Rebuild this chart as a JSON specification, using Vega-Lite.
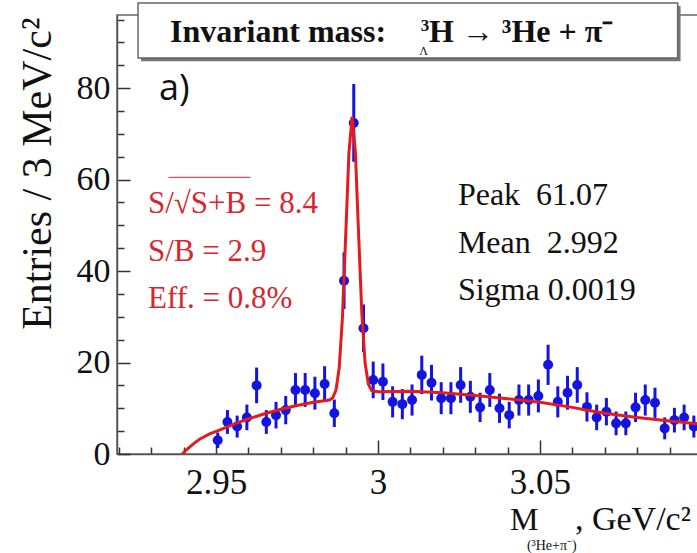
{
  "$schema": "https://vega.github.io/schema/vega-lite/v6.json",
  "autosize": {"type": "none"},
  "width": 583,
  "height": 439,
  "padding": {"left": 117, "top": 15, "right": 0, "bottom": 99},
  "background": "white",
  "view": {"stroke": "#666666", "strokeWidth": 1.5},
  "config": {"font": "Liberation Serif"},
  "resolve": {"axis": {"x": "independent", "y": "independent"}},
  "datasets": {
    "hist": [
      {"m": 2.9505, "n": 3.0, "lo": 1.3, "hi": 4.7},
      {"m": 2.9535, "n": 7.0, "lo": 4.4, "hi": 9.6},
      {"m": 2.9565, "n": 6.0, "lo": 3.6, "hi": 8.4},
      {"m": 2.9595, "n": 8.0, "lo": 5.2, "hi": 10.8},
      {"m": 2.9625, "n": 15.0, "lo": 11.1, "hi": 18.9},
      {"m": 2.9655, "n": 7.0, "lo": 4.4, "hi": 9.6},
      {"m": 2.9685, "n": 8.5, "lo": 5.6, "hi": 11.4},
      {"m": 2.9715, "n": 9.6, "lo": 6.5, "hi": 12.7},
      {"m": 2.9745, "n": 14.0, "lo": 10.3, "hi": 17.7},
      {"m": 2.9775, "n": 14.0, "lo": 10.3, "hi": 17.7},
      {"m": 2.9805, "n": 13.3, "lo": 9.7, "hi": 16.9},
      {"m": 2.9835, "n": 15.3, "lo": 11.4, "hi": 19.2},
      {"m": 2.9865, "n": 8.9, "lo": 5.9, "hi": 11.9},
      {"m": 2.9895, "n": 37.9, "lo": 31.7, "hi": 44.1},
      {"m": 2.9925, "n": 72.4, "lo": 63.9, "hi": 80.9},
      {"m": 2.9955, "n": 27.5, "lo": 22.3, "hi": 32.7},
      {"m": 2.9985, "n": 16.2, "lo": 12.2, "hi": 20.2},
      {"m": 3.0015, "n": 15.8, "lo": 11.8, "hi": 19.8},
      {"m": 3.0045, "n": 11.4, "lo": 8.0, "hi": 14.8},
      {"m": 3.0075, "n": 10.9, "lo": 7.6, "hi": 14.2},
      {"m": 3.0105, "n": 11.8, "lo": 8.4, "hi": 15.2},
      {"m": 3.0135, "n": 17.3, "lo": 13.1, "hi": 21.5},
      {"m": 3.0165, "n": 15.6, "lo": 11.7, "hi": 19.5},
      {"m": 3.0195, "n": 12.2, "lo": 8.7, "hi": 15.7},
      {"m": 3.0225, "n": 12.2, "lo": 8.7, "hi": 15.7},
      {"m": 3.0255, "n": 15.1, "lo": 11.2, "hi": 19.0},
      {"m": 3.0285, "n": 12.5, "lo": 9.0, "hi": 16.0},
      {"m": 3.0315, "n": 10.2, "lo": 7.0, "hi": 13.4},
      {"m": 3.0345, "n": 14.0, "lo": 10.3, "hi": 17.7},
      {"m": 3.0375, "n": 10.0, "lo": 6.8, "hi": 13.2},
      {"m": 3.0405, "n": 8.5, "lo": 5.6, "hi": 11.4},
      {"m": 3.0435, "n": 11.8, "lo": 8.4, "hi": 15.2},
      {"m": 3.0465, "n": 11.8, "lo": 8.4, "hi": 15.2},
      {"m": 3.0495, "n": 12.7, "lo": 9.1, "hi": 16.3},
      {"m": 3.0525, "n": 19.5, "lo": 15.1, "hi": 23.9},
      {"m": 3.0555, "n": 11.4, "lo": 8.0, "hi": 14.8},
      {"m": 3.0585, "n": 13.4, "lo": 9.7, "hi": 17.1},
      {"m": 3.0615, "n": 15.1, "lo": 11.2, "hi": 19.0},
      {"m": 3.0645, "n": 10.3, "lo": 7.1, "hi": 13.5},
      {"m": 3.0675, "n": 8.0, "lo": 5.2, "hi": 10.8},
      {"m": 3.0705, "n": 9.25, "lo": 6.25, "hi": 12.25},
      {"m": 3.0735, "n": 6.7, "lo": 4.1, "hi": 9.3},
      {"m": 3.0765, "n": 6.7, "lo": 4.1, "hi": 9.3},
      {"m": 3.0795, "n": 10.2, "lo": 7.0, "hi": 13.4},
      {"m": 3.0825, "n": 11.8, "lo": 8.4, "hi": 15.2},
      {"m": 3.0855, "n": 11.2, "lo": 7.9, "hi": 14.5},
      {"m": 3.0885, "n": 5.6, "lo": 3.2, "hi": 8.0},
      {"m": 3.0915, "n": 7.4, "lo": 4.7, "hi": 10.1},
      {"m": 3.0945, "n": 8.0, "lo": 5.2, "hi": 10.8},
      {"m": 3.0975, "n": 6.0, "lo": 3.6, "hi": 8.4}
    ],
    "fit": [
      {"m": 2.9395, "f": 0.0},
      {"m": 2.941, "f": 1.0},
      {"m": 2.943, "f": 2.2},
      {"m": 2.945, "f": 3.3},
      {"m": 2.948, "f": 4.4},
      {"m": 2.951, "f": 5.2},
      {"m": 2.954, "f": 6.1},
      {"m": 2.957, "f": 6.9},
      {"m": 2.96, "f": 7.7},
      {"m": 2.965, "f": 8.8},
      {"m": 2.97, "f": 9.8},
      {"m": 2.975, "f": 10.6},
      {"m": 2.98, "f": 11.3},
      {"m": 2.985, "f": 11.8},
      {"m": 2.986, "f": 12.3},
      {"m": 2.987, "f": 13.9},
      {"m": 2.988, "f": 18.8},
      {"m": 2.989, "f": 29.8},
      {"m": 2.99, "f": 47.5},
      {"m": 2.991, "f": 65.8},
      {"m": 2.992, "f": 73.8},
      {"m": 2.993, "f": 66.0},
      {"m": 2.994, "f": 48.0},
      {"m": 2.995, "f": 30.6},
      {"m": 2.996, "f": 19.9},
      {"m": 2.997, "f": 15.3},
      {"m": 2.998, "f": 13.9},
      {"m": 2.999, "f": 13.7},
      {"m": 3.0, "f": 13.6},
      {"m": 3.01, "f": 13.7},
      {"m": 3.02, "f": 13.4},
      {"m": 3.03, "f": 12.8},
      {"m": 3.04, "f": 12.1},
      {"m": 3.05, "f": 11.3},
      {"m": 3.06, "f": 10.2},
      {"m": 3.065, "f": 9.5},
      {"m": 3.07, "f": 8.9},
      {"m": 3.08, "f": 8.0},
      {"m": 3.09, "f": 7.2},
      {"m": 3.0985, "f": 6.6}
    ]
  },
  "layer": [
    {
      "data": {"name": "hist"},
      "mark": {"type": "rule", "color": "#1414e0", "strokeWidth": 3},
      "encoding": {
        "x": {"field": "m", "type": "quantitative", "scale": {"domain": [2.9194, 3.0994], "nice": false, "zero": false},
          "axis": {
            "orient": "bottom", "title": null, "labels": false, "domain": false, "grid": false,
            "values": [2.92, 2.93, 2.94, 2.96, 2.97, 2.98, 2.99, 3.01, 3.02, 3.03, 3.04, 3.06, 3.07, 3.08, 3.09],
            "tickSize": -7, "tickColor": "#333333", "tickWidth": 1.5
          }},
        "y": {"field": "lo", "type": "quantitative", "scale": {"domain": [0, 96], "nice": false, "zero": false},
          "axis": {
            "orient": "left", "title": null, "labels": false, "domain": false, "grid": false,
            "values": [5, 10, 15, 25, 30, 35, 45, 50, 55, 65, 70, 75, 85, 90, 95],
            "tickSize": -7, "tickColor": "#333333", "tickWidth": 1.5
          }},
        "y2": {"field": "hi"}
      }
    },
    {
      "data": {"name": "hist"},
      "mark": {"type": "circle", "color": "#1414e0", "opacity": 1, "size": 100},
      "encoding": {
        "x": {"field": "m", "type": "quantitative", "scale": {"domain": [2.9194, 3.0994], "nice": false, "zero": false},
          "axis": {
            "orient": "bottom", "title": null,
            "values": [2.95, 3.0, 3.05],
            "format": ".2~f",
            "tickSize": -14,
            "labelPadding": 25,
            "labelFont": "Liberation Serif", "labelFontSize": 35, "labelColor": "#111111",
            "labelBaseline": "top", "labelFlush": false, "labelOverlap": false,
            "tickColor": "#333333", "tickWidth": 1.5,
            "domainColor": "#555555", "domainWidth": 1.5, "grid": false
          }},
        "y": {"field": "n", "type": "quantitative", "scale": {"domain": [0, 96], "nice": false, "zero": false},
          "axis": {
            "orient": "left",
            "title": "Entries / 3 MeV/c²",
            "titleFont": "Liberation Serif", "titleFontSize": 42, "titleFontWeight": "normal", "titleColor": "#111111",
            "titleAngle": -90, "titleAlign": "right", "titleBaseline": "alphabetic",
            "titleX": -67, "titleY": 2,
            "values": [0, 20, 40, 60, 80],
            "format": "d",
            "tickSize": -13,
            "labelPadding": 20,
            "labelFont": "Liberation Serif", "labelFontSize": 34, "labelColor": "#111111",
            "labelFlush": false, "labelOverlap": false,
            "tickColor": "#333333", "tickWidth": 1.5,
            "domainColor": "#555555", "domainWidth": 1.5, "grid": false
          }}
      }
    },
    {
      "data": {"name": "fit"},
      "mark": {"type": "line", "color": "#e41a1c", "strokeWidth": 3, "clip": true},
      "encoding": {
        "x": {"field": "m", "type": "quantitative", "scale": {"domain": [2.9194, 3.0994], "nice": false, "zero": false}, "axis": null},
        "y": {"field": "f", "type": "quantitative", "scale": {"domain": [0, 96], "nice": false, "zero": false}, "axis": null}
      }
    },
    {
      "data": {"values": [{}]},
      "mark": {"type": "rect", "fill": "#777777", "stroke": null},
      "encoding": {
        "x": {"datum": 2.9268, "type": "quantitative", "scale": {"domain": [2.9194, 3.0994], "nice": false, "zero": false}, "axis": null},
        "x2": {"datum": 3.0934},
        "y": {"datum": 97.97, "type": "quantitative", "scale": {"domain": [0, 96], "nice": false, "zero": false}, "axis": null},
        "y2": {"datum": 85.9}
      }
    },
    {
      "data": {"values": [{}]},
      "mark": {"type": "rect", "fill": "white", "stroke": "#666666", "strokeWidth": 1.5},
      "encoding": {
        "x": {"datum": 2.9259, "type": "quantitative", "scale": {"domain": [2.9194, 3.0994], "nice": false, "zero": false}, "axis": null},
        "x2": {"datum": 3.0925},
        "y": {"datum": 98.6, "type": "quantitative", "scale": {"domain": [0, 96], "nice": false, "zero": false}, "axis": null},
        "y2": {"datum": 86.6}
      }
    },
    {
      "data": {"values": [{}]},
      "mark": {"type": "text", "text": "Invariant mass:", "font": "Liberation Serif", "fontWeight": "bold", "fontSize": 32, "align": "left", "baseline": "alphabetic", "color": "#111111"},
      "encoding": {
        "x": {"datum": 2.9358, "type": "quantitative", "scale": {"domain": [2.9194, 3.0994], "nice": false, "zero": false}, "axis": null},
        "y": {"datum": 90.2, "type": "quantitative", "scale": {"domain": [0, 96], "nice": false, "zero": false}, "axis": null}
      }
    },
    {
      "data": {"values": [{}]},
      "mark": {"type": "text", "text": "3", "font": "Liberation Serif", "fontWeight": "bold", "fontSize": 17, "align": "left", "baseline": "alphabetic", "color": "#111111"},
      "encoding": {
        "x": {"datum": 3.0132, "type": "quantitative", "scale": {"domain": [2.9194, 3.0994], "nice": false, "zero": false}, "axis": null},
        "y": {"datum": 92.6, "type": "quantitative", "scale": {"domain": [0, 96], "nice": false, "zero": false}, "axis": null}
      }
    },
    {
      "data": {"values": [{}]},
      "mark": {"type": "text", "text": "H → ³He +  π⁻", "font": "Liberation Serif", "fontWeight": "bold", "fontSize": 32, "align": "left", "baseline": "alphabetic", "color": "#111111"},
      "encoding": {
        "x": {"datum": 3.0157, "type": "quantitative", "scale": {"domain": [2.9194, 3.0994], "nice": false, "zero": false}, "axis": null},
        "y": {"datum": 90.2, "type": "quantitative", "scale": {"domain": [0, 96], "nice": false, "zero": false}, "axis": null}
      }
    },
    {
      "data": {"values": [{}]},
      "mark": {"type": "text", "text": "Λ", "font": "Liberation Serif", "fontSize": 12, "align": "center", "baseline": "alphabetic", "color": "#111111"},
      "encoding": {
        "x": {"datum": 3.01405, "type": "quantitative", "scale": {"domain": [2.9194, 3.0994], "nice": false, "zero": false}, "axis": null},
        "y": {"datum": 87.25, "type": "quantitative", "scale": {"domain": [0, 96], "nice": false, "zero": false}, "axis": null}
      }
    },
    {
      "data": {"values": [{}]},
      "mark": {"type": "text", "text": "a)", "font": "Open Sans", "fontSize": 36, "align": "left", "baseline": "alphabetic", "color": "#111111"},
      "encoding": {
        "x": {"datum": 2.9324, "type": "quantitative", "scale": {"domain": [2.9194, 3.0994], "nice": false, "zero": false}, "axis": null},
        "y": {"datum": 77.4, "type": "quantitative", "scale": {"domain": [0, 96], "nice": false, "zero": false}, "axis": null}
      }
    },
    {
      "data": {"values": [{"t": "S/√S+B = 8.4", "v": 52.7}, {"t": "S/B = 2.9", "v": 42.2}, {"t": "Eff. = 0.8%", "v": 31.9}]},
      "mark": {"type": "text", "font": "Liberation Serif", "fontSize": 31, "align": "left", "baseline": "alphabetic", "color": "#d7262e"},
      "encoding": {
        "x": {"datum": 2.92897, "type": "quantitative", "scale": {"domain": [2.9194, 3.0994], "nice": false, "zero": false}, "axis": null},
        "y": {"field": "v", "type": "quantitative", "scale": {"domain": [0, 96], "nice": false, "zero": false}, "axis": null},
        "text": {"field": "t"}
      }
    },
    {
      "data": {"values": [{}]},
      "mark": {"type": "rule", "color": "#d7262e", "strokeWidth": 1},
      "encoding": {
        "x": {"datum": 2.9353, "type": "quantitative", "scale": {"domain": [2.9194, 3.0994], "nice": false, "zero": false}, "axis": null},
        "x2": {"datum": 2.9606},
        "y": {"datum": 60.5, "type": "quantitative", "scale": {"domain": [0, 96], "nice": false, "zero": false}, "axis": null}
      }
    },
    {
      "data": {"values": [{"t": "Peak\u00a0\u00a061.07", "v": 54.4}, {"t": "Mean\u00a0\u00a02.992", "v": 43.95}, {"t": "Sigma 0.0019", "v": 33.7}]},
      "mark": {"type": "text", "font": "Liberation Serif", "fontSize": 32, "align": "left", "baseline": "alphabetic", "color": "#111111"},
      "encoding": {
        "x": {"datum": 3.02465, "type": "quantitative", "scale": {"domain": [2.9194, 3.0994], "nice": false, "zero": false}, "axis": null},
        "y": {"field": "v", "type": "quantitative", "scale": {"domain": [0, 96], "nice": false, "zero": false}, "axis": null},
        "text": {"field": "t"}
      }
    },
    {
      "data": {"values": [{}]},
      "mark": {"type": "text", "text": "M", "font": "Liberation Serif", "fontSize": 32, "align": "left", "baseline": "alphabetic", "color": "#111111"},
      "encoding": {
        "x": {"datum": 3.0407, "type": "quantitative", "scale": {"domain": [2.9194, 3.0994], "nice": false, "zero": false}, "axis": null},
        "y": {"datum": -16.6, "type": "quantitative", "scale": {"domain": [0, 96], "nice": false, "zero": false}, "axis": null}
      }
    },
    {
      "data": {"values": [{}]},
      "mark": {"type": "text", "text": "(³He+π⁻)", "font": "Liberation Serif", "fontSize": 14, "align": "left", "baseline": "alphabetic", "color": "#111111"},
      "encoding": {
        "x": {"datum": 3.04595, "type": "quantitative", "scale": {"domain": [2.9194, 3.0994], "nice": false, "zero": false}, "axis": null},
        "y": {"datum": -21.0, "type": "quantitative", "scale": {"domain": [0, 96], "nice": false, "zero": false}, "axis": null}
      }
    },
    {
      "data": {"values": [{}]},
      "mark": {"type": "text", "text": ", GeV/c²", "font": "Liberation Serif", "fontSize": 34, "align": "left", "baseline": "alphabetic", "color": "#111111"},
      "encoding": {
        "x": {"datum": 3.0608, "type": "quantitative", "scale": {"domain": [2.9194, 3.0994], "nice": false, "zero": false}, "axis": null},
        "y": {"datum": -16.6, "type": "quantitative", "scale": {"domain": [0, 96], "nice": false, "zero": false}, "axis": null}
      }
    }
  ]
}
